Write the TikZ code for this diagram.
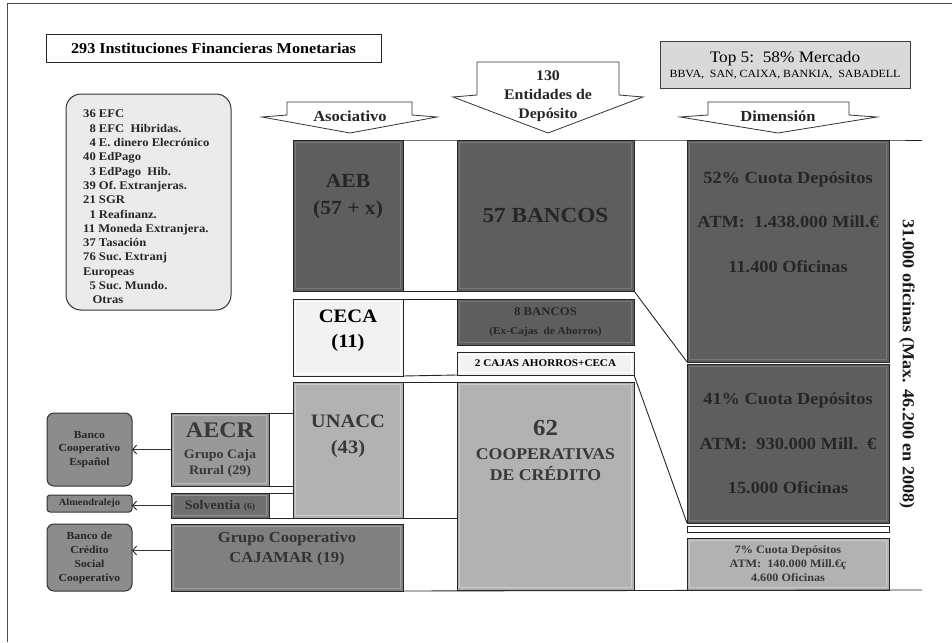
\documentclass[tikz,border=0pt]{standalone}
\usepackage{fontspec}
\setmainfont{Liberation Serif}[FakeStretch=1.08]
\usetikzlibrary{arrows.meta}

\begin{document}
\begin{tikzpicture}[
    x=1pt, y=-1pt,
    bisel/.style={path picture={\draw[#1, line width=1.4pt]
        ([shift={(2.6pt,-2.6pt)}]path picture bounding box.north west) rectangle
        ([shift={(-2.6pt,2.6pt)}]path picture bounding box.south east);}},
    caja/.style={rectangle, draw=black!85, line width=1pt, inner sep=0pt, outer sep=0pt, align=center, font=\bfseries},
    oscura/.style={caja, fill=black!63, text=black!85, bisel=black!53},
    media/.style={caja, fill=black!30, text=black!78, bisel=black!20},
    clara/.style={caja, fill=black!5, text=black, bisel=white},
    redonda/.style={rectangle, rounded corners=7pt, draw=black!80, line width=1pt, fill=black!45, text=black!85, align=center, inner sep=0pt, outer sep=0pt},
    rotulo/.style={align=center, inner sep=0pt, text=black!85},
    flecha/.style={draw=black!80, line width=0.8pt, fill=white, line join=miter},
    linea/.style={draw=black!85, line width=0.9pt},
    conector/.style={draw=black!80, line width=1pt, -{Straight Barb[length=4pt, width=9pt]}},
    ]
    \useasboundingbox (0,0) rectangle (952,642);
    \draw[black!70, line width=1pt] (7,642) -- (7,4) -- (952,4);

    \node[caja, minimum width=335, minimum height=27, font={\bfseries\fontsize{15}{17}\selectfont}] (titulo) at (213.5,48.5) {293 Instituciones Financieras Monetarias};
    \node[caja, fill=black!15, draw=black!75, minimum width=250, minimum height=46, font={\fontsize{16}{15}\selectfont}] (top) at (785,65) {Top 5:\ \ 58\% Mercado\\{\fontsize{11}{11}\selectfont BBVA,\ \ SAN, CAIXA, BANKIA,\ \ SABADELL}};

    \node[rectangle, rounded corners=15pt, fill=black!8, draw=black!80, line width=1pt, minimum width=165, minimum height=216] (info) at (148.5,202) {};
    \node[rotulo, align=left, anchor=north west, font={\bfseries\fontsize{11.7}{14.3}\selectfont}] (lista) at (83,110) {36 EFC\\
        \phantom{3}8 EFC\ \ Hibridas.\\
        \phantom{3}4 E.\ dinero Elecrónico\\
        40 EdPago\\
        \phantom{3}3 EdPago\ \ Hib.\\
        39 Of.\ Extranjeras.\\
        21 SGR\\
        \phantom{2}1 Reafinanz.\\
        11 Moneda\ Extranjera.\\
        37 Tasación\\
        76 Suc.\ Extranj\\
        Europeas\\
        \phantom{7}5 Suc.\ Mundo.\\
        \phantom{7}\hspace{3pt}Otras};

    \draw[flecha] (287,102) -- (412,102) -- (412,115) -- (437,117) -- (350,133) -- (262,117) -- (287,115) -- cycle;
    \draw[flecha] (477,62) -- (619,62) -- (619,95) -- (643,97) -- (548,133) -- (453,97) -- (477,95) -- cycle;
    \draw[flecha] (708,102) -- (849,102) -- (849,115) -- (877,117) -- (778,133) -- (680,117) -- (708,115) -- cycle;
    \node[rotulo, font={\bfseries\fontsize{15.3}{15}\selectfont}] (asoc) at (350,116) {Asociativo};
    \node[rotulo, font={\bfseries\fontsize{14.7}{19}\selectfont}] (entid) at (548,96) {130\\Entidades de\\Depósito};
    \node[rotulo, font={\bfseries\fontsize{15.3}{15}\selectfont}] (dimen) at (778,116) {Dimensión};

    \node[oscura, minimum width=110, minimum height=151] (aeb) at (348,215.5) {};
    \node[rotulo, font={\bfseries\fontsize{20}{27}\selectfont}] (aebtxt) at (348,197) {AEB\\(57 + x)};
    \node[oscura, minimum width=177, minimum height=151, font={\bfseries\fontsize{21.5}{26}\selectfont}] (bancos) at (545.5,215.5) {57 BANCOS};
    \node[oscura, minimum width=202, minimum height=222] (c52) at (788,251) {};
    \node[rotulo, font={\bfseries\fontsize{17}{44.5}\selectfont}] (c52txt) at (788,222) {52\% Cuota Depósitos\\ATM:\ \ 1.438.000 Mill.€\\11.400 Oficinas};

    \node[clara, minimum width=110, minimum height=77] (ceca) at (348,337.5) {};
    \node[rotulo, text=black, font={\bfseries\fontsize{19}{25}\selectfont}] (cecatxt) at (348,331) {CECA\\(11)};
    \node[oscura, minimum width=177, minimum height=46, font={\bfseries\fontsize{11.8}{19}\selectfont}] (ocho) at (545.5,322) {8 BANCOS\\{\fontsize{10.5}{13}\selectfont (Ex-Cajas\ \ de Ahorros)}};
    \node[clara, minimum width=177, minimum height=23, font={\bfseries\fontsize{10.3}{12}\selectfont}] (cajas) at (545.5,363.5) {2 CAJAS AHORROS+CECA};

    \node[oscura, minimum width=202, minimum height=159, font={\bfseries\fontsize{17}{44.5}\selectfont}] (c41) at (788,443.5) {41\% Cuota Depósitos\\ATM:\ \ 930.000 Mill.\ \ €\\15.000 Oficinas};
    \node[caja, fill=white, minimum width=202, minimum height=6] (franja) at (788,529) {};
    \node[media, minimum width=202, minimum height=52, font={\bfseries\fontsize{11.3}{14}\selectfont}] (c7) at (788,564) {7\% Cuota Depósitos\\ATM:\ \ 140.000 Mill.€ç\\4.600 Oficinas};

    \node[media, minimum width=110, minimum height=136] (unacc) at (348,450) {};
    \node[rotulo, text=black!78, font={\bfseries\fontsize{19}{26}\selectfont}] (unacctxt) at (348,436) {UNACC\\(43)};
    \node[media, minimum width=177, minimum height=208] (coop) at (545.5,486) {};
    \node[rotulo, text=black!78, font={\bfseries\fontsize{16.4}{21}\selectfont}] (cooptxt) at (545.5,450) {{\fontsize{23}{23}\selectfont 62}\\[3pt]COOPERATIVAS\\DE CRÉDITO};

    \node[caja, fill=black!40, text=black!78, bisel=black!27, minimum width=98, minimum height=73, font={\bfseries\fontsize{13}{16}\selectfont}] (aecr) at (220,449.5) {{\fontsize{22.3}{23}\selectfont AECR}\\[5pt]Grupo Caja\\Rural (29)};
    \node[caja, fill=black!56, text=black!82, bisel=black!42, minimum width=98, minimum height=25, font={\bfseries\fontsize{13}{14}\selectfont}] (solv) at (220,505.5) {Solventia {\fontsize{9}{9}\selectfont (6)}};
    \node[caja, fill=black!50, text=black!80, bisel=black!37, minimum width=232, minimum height=67] (cajamar) at (287,557.5) {};
    \node[rotulo, text=black!80, font={\bfseries\fontsize{15.3}{20}\selectfont}] (cajamartxt) at (287,549) {Grupo Cooperativo\\CAJAMAR (19)};

    \node[redonda, minimum width=85, minimum height=73, font={\bfseries\fontsize{10.8}{13.5}\selectfont}] (bce) at (89.5,449.5) {Banco\\Cooperativo\\Español};
    \node[redonda, rounded corners=3pt, minimum width=85, minimum height=17, font={\bfseries\fontsize{9.6}{10}\selectfont}] (almen) at (89.5,503.5) {Almendralejo};
    \node[redonda, minimum width=85, minimum height=67, font={\bfseries\fontsize{10.8}{14}\selectfont}] (bcsc) at (89.5,557.5) {Banco de\\Crédito\\Social\\Cooperativo};

    \node[rotulo, rotate=-90, text=black!90, font={\bfseries\fontsize{16.8}{20}\selectfont}] (oficinas) at (907,364) {31.000 oficinas (Max. 46.200 en 2008)};

    \coordinate (fin1) at (922,140);
    \coordinate (fin2) at (922,590);
    \draw[linea] (aeb.north east) -- (c52.north east) -- (fin1);
    \draw[linea] (cajamar.south east) -- (c7.south east) -- (fin2);
    \draw[linea] (aeb.south east) -- (bancos.south west);
    \draw[linea] (ceca.north east) -- (ocho.north west);
    \draw[linea] (ceca.south east) -- (cajas.south west);
    \draw[linea] (bancos.south east) -- (c52.south west);
    \draw[linea] (cajas.south east) -- (c41.south west);
    \draw[linea] (unacc.north east) -- (coop.north west);
    \draw[linea] (aecr.north east) -- (aecr.north east -| unacc.west);
    \draw[linea] (aecr.south east) -- (aecr.south east -| unacc.west);
    \draw[linea] (solv.north east) -- (solv.north east -| unacc.west);
    \draw[linea] (solv.south east) -- (solv.south east -| coop.west);

    \draw[conector] (aecr.west) -- (bce.east);
    \draw[conector] (solv.west) -- (solv.west -| almen.east);
    \draw[conector] ([yshift=7pt]cajamar.west) -- ([yshift=7pt]bcsc.east);
\end{tikzpicture}
\end{document}
